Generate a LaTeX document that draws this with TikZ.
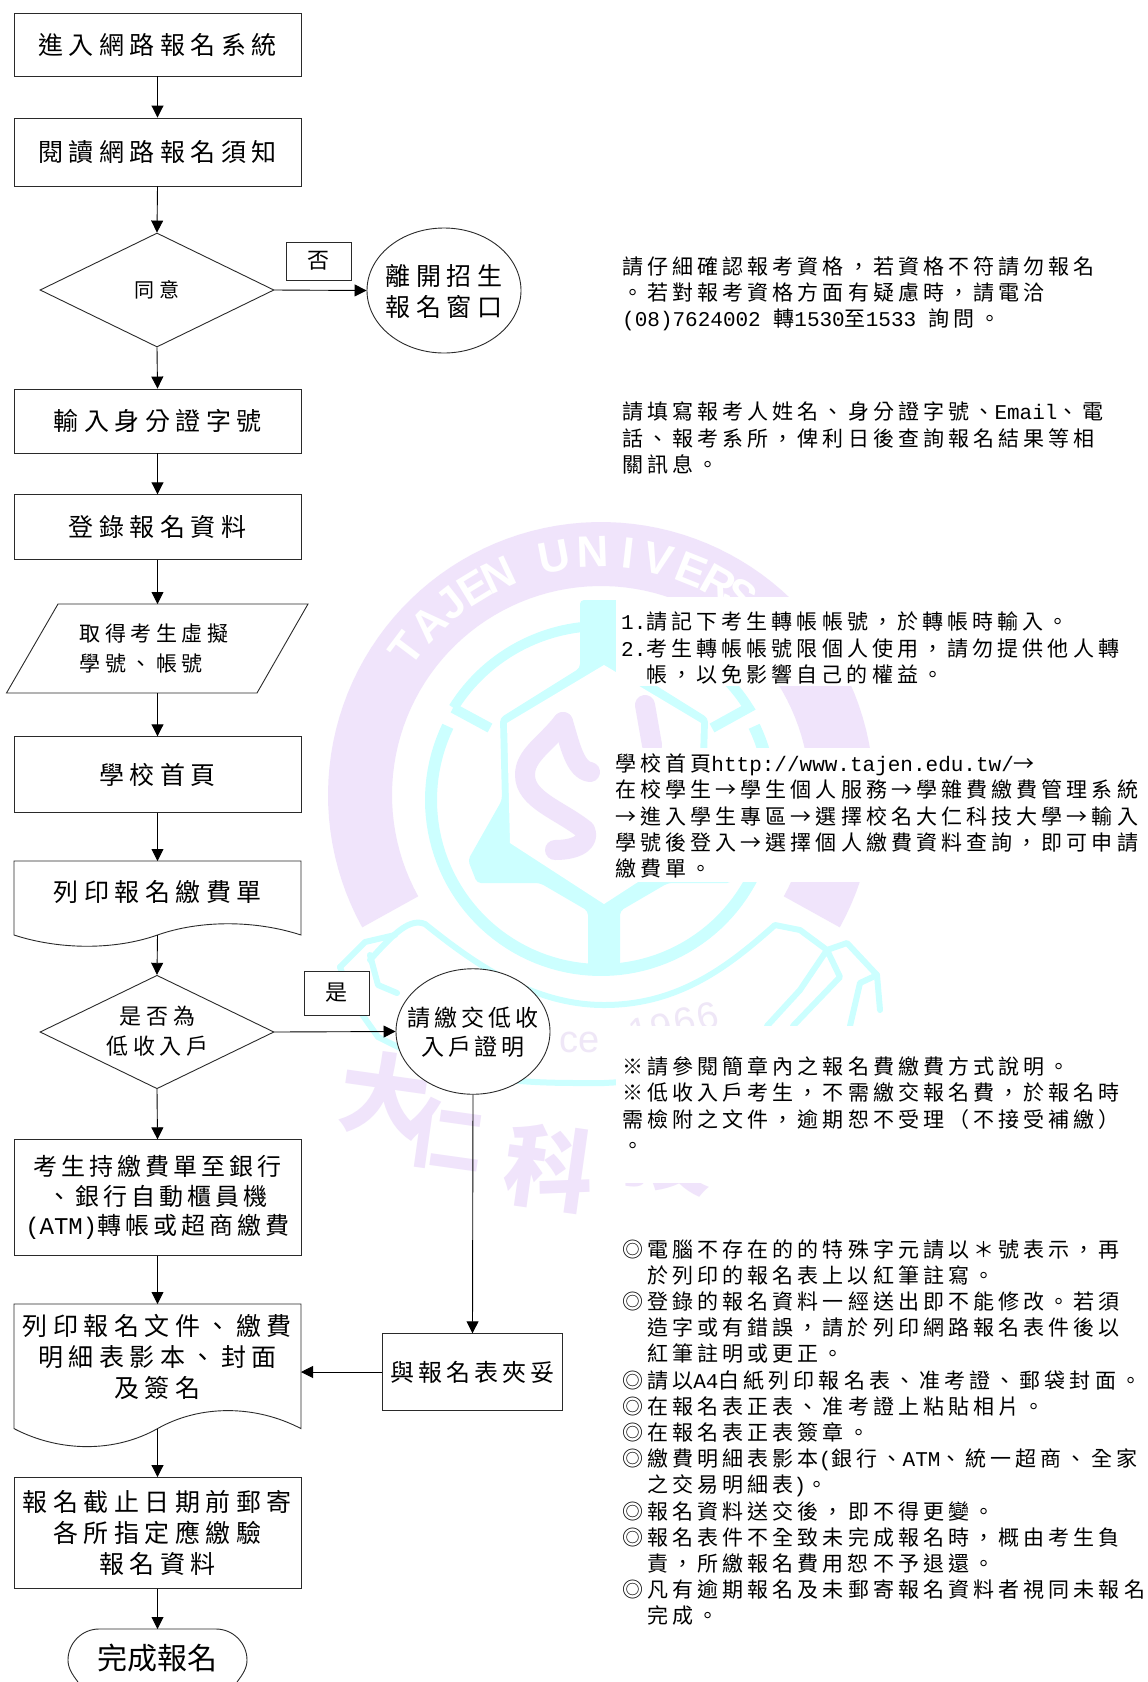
\documentclass[tikz,border=0pt]{standalone}
\usepackage{fontspec}
\usetikzlibrary{shapes.geometric,arrows.meta}
\setmainfont{Noto Sans CJK TC}
\newfontfamily\cjkplain{Noto Sans CJK TC}
\newfontfamily\cjkbig[LetterSpace=22]{Noto Sans CJK TC}
\newfontfamily\cjkmid[LetterSpace=17]{Noto Sans CJK TC}
\newfontfamily\cjksmall[LetterSpace=22]{Noto Sans CJK TC}
\newfontfamily\cjknote[LetterSpace=19.5]{Noto Sans CJK TC}
\newfontfamily\latmono{Liberation Mono}
\newfontfamily\wmsans{Liberation Sans}
\newcommand\lat[1]{{\latmono #1}}
\definecolor{wmpurple}{HTML}{F0E4FB}
\definecolor{wmcyan}{HTML}{CCFFFF}
\definecolor{wmtext}{HTML}{EFE7F7}
\definecolor{inkline}{HTML}{2A2A2A}
\tikzset{
  shapeline/.style={draw=inkline,line width=0.9pt,fill=white},
  bigtxt/.style={font={\fontsize{25}{31}\selectfont\cjkbig},align=center,inner sep=0pt},
  midtxt/.style={font={\fontsize{24}{29.5}\selectfont\cjkmid},align=center,inner sep=0pt},
  smalltxt/.style={font={\fontsize{22}{30}\selectfont\cjksmall},align=center,inner sep=0pt},
  flowbox/.style={shapeline,rectangle,minimum width=287pt,inner sep=0pt},
  labelbox/.style={shapeline,rectangle,minimum width=65pt,inner sep=0pt,font={\fontsize{22}{26}\selectfont\cjkplain}},
  decision/.style={shapeline,diamond,minimum width=234pt,inner sep=0pt,aspect=2},
  bubble/.style={shapeline,ellipse,minimum width=154pt,inner sep=0pt},
  notetxt/.style={anchor=west,align=left,inner sep=0pt,font={\fontsize{21}{26.2}\selectfont\cjknote}},
  arr/.style={draw=black,line width=0.9pt,-{Triangle[length=12pt,width=12pt]}},
  wmring/.style={draw=wmcyan,line width=12pt},
  wmthin/.style={draw=wmcyan,line width=6pt,line join=round,line cap=round},
  wmstroke/.style={draw=wmpurple,line width=20pt,line cap=round,line join=round},
  wmhan/.style={text=wmpurple,inner sep=0pt,font={\fontsize{90}{90}\selectfont\cjkplain\bfseries}},
  wmdigit/.style={text=wmtext,inner sep=0pt,font={\fontsize{38}{38}\selectfont\wmsans}},
  blank/.style={fill=white,draw=none}
}
\begin{document}
\begin{tikzpicture}[x=1pt,y=-1pt]
\path[use as bounding box,fill=white] (0,0) rectangle (1148,1682);
% ---- watermark ----
\fill[wmpurple] plot[domain=151:389,samples=90] ({601+273*cos(\x)},{795+273*sin(\x)})
   -- plot[domain=389:151,samples=90] ({601+209*cos(\x)},{795+209*sin(\x)}) -- cycle;
\foreach \a/\c in {-53/T,-45/A,-38/J,-31.4/E,-25/N,-11/U,-2/N,6.5/I,13.7/V,21.8/E,29/R,35/S}{
  \node[text=white,inner sep=0pt,rotate=-\a,font={\fontsize{44}{44}\selectfont\wmsans\bfseries}]
     (wm\a) at ({601+243*sin(\a)},{795-243*cos(\a)}) {\c};
}
\draw[wmring] plot[domain=205.7:-25.7,samples=90] ({601+170*cos(\x)},{800+170*sin(\x)});
\draw[wmcyan,line width=10pt] (490,728) -- (453,708) plot[domain=212:328,samples=60] ({601+174*cos(\x)},{800+174*sin(\x)}) -- (712,728);
\fill[wmcyan,rounded corners=4pt] (580,600) -- (628,600) -- (628,668) -- (708,718) -- (706,800) -- (740,860) -- (731,883) -- (668,883) -- (620,911) -- (620,970) -- (588,970) -- (588,911) -- (540,883) -- (477,883) -- (468,860) -- (502,800) -- (500,718) -- (580,668) -- cycle;
\fill[white] (604,665) -- (701,723) -- (698,843) -- (604,904) -- (510,843) -- (507,723) -- cycle;
\draw[wmstroke] (563,722) .. controls (545,745) and (525,755) .. (525,775) .. controls (525,800) and (560,810) .. (585,830) .. controls (590,840) and (580,850) .. (555,850);
\draw[wmstroke] (563,722) .. controls (570,745) and (575,770) .. (590,772);
\draw[wmstroke] (645,705) -- (652,745);
\draw[wmthin] (340,967) -- (365,942) -- (395,935);
\draw[wmthin] (370,960) .. controls (395,932) and (410,918) .. (425,924) .. controls (470,960) and (530,1005) .. (604,1005) .. controls (680,1005) and (730,965) .. (775,925) -- (800,930) -- (827,950) -- (847,943) -- (877,975) -- (880,1010);
\draw[wmthin] (340,967) -- (352,1000) -- (378,1037) -- (400,1048) .. controls (470,1085) and (540,1083) .. (604,1083) -- (660,1080);
\draw[wmthin] (370,955) -- (378,985) -- (397,993);
\draw[wmthin] (767,1026) -- (800,990) -- (827,950) -- (840,977) -- (793,1026);
\draw[wmthin] (850,1026) -- (860,983) -- (877,975);
\node[wmdigit] (wmce) at (580,1042) {ce};
\node[wmdigit,rotate=14] (wmyeara) at (640,1031) {1};
\node[wmdigit,rotate=14] (wmyearb) at (662,1027) {9};
\node[wmdigit,rotate=14] (wmyearc) at (685,1021) {6};
\node[wmdigit,rotate=14] (wmyeard) at (708,1016) {6};
\node[wmhan,rotate=-8] (wmda) at (385,1095) {大};
\node[wmhan,rotate=-8,font={\fontsize{76}{76}\selectfont\cjkplain\bfseries}] (wmren) at (445,1135) {仁};
\node[wmhan,rotate=-8] (wmke) at (550,1168) {科};
\node[wmhan,rotate=-8] (wmji) at (670,1150) {技};
\fill[blank] (616,597) rectangle (1148,686);
\fill[blank] (610,748) rectangle (1148,882);
\fill[blank] (616,1026) rectangle (1148,1183);
\fill[blank] (616,1197) rectangle (1148,1240);
% ---- flow ----
\node[flowbox,minimum height=63pt,bigtxt] (enter) at (157.5,44.5) {進入網路報名系統};
\node[flowbox,minimum height=68pt,bigtxt] (read) at (157.5,152) {閱讀網路報名須知};
\node[decision,minimum height=114pt,font={\fontsize{20}{26}\selectfont\cjksmall}] (agree) at (157,290) {同意};
\node[labelbox,minimum height=38pt] (nolabel) at (318.5,261) {否};
\node[bubble,minimum height=125pt] (leave) at (444,290.5) {};
\node[bigtxt] (leavetxt) at (444,291) {離開招生\\報名窗口};
\node[flowbox,minimum height=64pt,bigtxt] (idno) at (157.5,421) {輸入身分證字號};
\node[flowbox,minimum height=64.5pt,bigtxt] (login) at (157.5,527) {登錄報名資料};
\coordinate (paratop) at (157.5,604);
\coordinate (parabot) at (157.5,693);
\draw[shapeline] (58,604) -- (308,604) -- (257,693) -- (6.5,693) -- cycle;
\node[smalltxt,align=left,font={\fontsize{21}{30.5}\selectfont\cjksmall}] (para) at (154,648.5) {取得考生虛擬\\學號、帳號};
\node[flowbox,minimum height=75.5pt,bigtxt] (home) at (157.5,774.5) {學校首頁};
\coordinate (docatop) at (157.5,861);
\coordinate (docabot) at (157.5,935);
\draw[shapeline] (14,861) -- (301,861) -- (301,935) .. controls (255,920) and (200,920) .. (157.5,935) .. controls (115,950) and (60,950) .. (14,935) -- cycle;
\node[bigtxt] (docatxt) at (157.5,891.5) {列印報名繳費單};
\node[decision,minimum height=113.5pt] (lowinc) at (157,1032) {};
\node[smalltxt] (lowtxt) at (157.5,1031) {是否為\\低收入戶};
\node[labelbox,minimum height=44pt] (yeslabel) at (336.5,993) {是};
\node[bubble,minimum height=125.5pt] (cert) at (473,1031.5) {};
\node[smalltxt,font={\fontsize{23}{28.5}\selectfont\cjkmid}] (certtxt) at (473,1032) {請繳交低收\\入戶證明};
\node[flowbox,minimum height=115.5pt,midtxt] (pay) at (157.5,1197.5) {考生持繳費單至銀行\\、銀行自動櫃員機\\\lat{(ATM)}轉帳或超商繳費};
\coordinate (docbtop) at (157.5,1304);
\coordinate (docbbot) at (157.5,1428.6);
\coordinate (docbeast) at (301,1372);
\draw[shapeline] (14,1304) -- (301,1304) -- (301,1428.6) .. controls (255,1404.6) and (200,1404.6) .. (157.5,1428.6) .. controls (115,1452.6) and (60,1452.6) .. (14,1428.6) -- cycle;
\node[bigtxt] (docbtxt) at (157.5,1357) {列印報名文件、繳費\\明細表影本、封面\\及簽名};
\node[shapeline,rectangle,minimum width=179.5pt,minimum height=76.5pt,inner sep=0pt,font={\fontsize{24}{29}\selectfont\cjkmid}] (clip) at (472.5,1372) {與報名表夾妥};
\node[flowbox,minimum height=111pt,bigtxt] (mail) at (157.5,1533) {報名截止日期前郵寄\\各所指定應繳驗\\報名資料};
\coordinate (termtop) at (157.5,1629);
\draw[shapeline] (78,1682) .. controls (72,1674) and (68,1668) .. (68,1660) .. controls (68,1643) and (82,1629) .. (99,1629) -- (216,1629) .. controls (233,1629) and (247,1643) .. (247,1660) .. controls (247,1668) and (243,1674) .. (237,1682);
\node[inner sep=0pt,font={\fontsize{30}{30}\selectfont\cjkplain}] (term) at (157.5,1658) {完成報名};
% connectors
\draw[arr] (enter.south) -- (read.north);
\draw[arr] (read.south) -- (agree.north);
\draw[arr] (agree.east) -- (leave.west);
\draw[arr] (agree.south) -- (idno.north);
\draw[arr] (idno.south) -- (login.north);
\draw[arr] (login.south) -- (paratop);
\draw[arr] (parabot) -- (home.north);
\draw[arr] (home.south) -- (docatop);
\draw[arr] (docabot) -- (lowinc.north);
\draw[arr] (lowinc.east) -- (cert.west);
\draw[arr] (lowinc.south) -- (pay.north);
\draw[arr] (pay.south) -- (docbtop);
\draw[arr] (cert.south) -- (clip.north);
\draw[arr] (clip.west) -- (docbeast);
\draw[arr] (docbbot) -- (mail.north);
\draw[arr] (mail.south) -- (termtop);
% notes
\node[notetxt] (notea) at (622,293.5) {請仔細確認報考資格，若資格不符請勿報名\\。若對報考資格方面有疑慮時，請電洽\\\lat{(08)7624002 }轉\lat{1530}至\lat{1533 }詢問。};
\node[notetxt] (noteb) at (622,438) {請填寫報考人姓名、身分證字號、\lat{Email}、電\\話、報考系所，俾利日後查詢報名結果等相\\關訊息。};
\node[notetxt] (notec) at (621,648) {\lat{1.}請記下考生轉帳帳號，於轉帳時輸入。\\\lat{2.}考生轉帳帳號限個人使用，請勿提供他人轉\\\hspace*{25pt}帳，以免影響自己的權益。};
\node[notetxt] (noted) at (615,816) {學校首頁\lat{http://www.tajen.edu.tw/}→\\在校學生→學生個人服務→學雜費繳費管理系統\\→進入學生專區→選擇校名大仁科技大學→輸入\\學號後登入→選擇個人繳費資料查詢，即可申請\\繳費單。};
\node[notetxt] (notee) at (622,1105) {※請參閱簡章內之報名費繳費方式說明。\\※低收入戶考生，不需繳交報名費，於報名時\\需檢附之文件，逾期恕不受理（不接受補繳）\\。};
\node[notetxt] (notef) at (622,1432.5) {◎電腦不存在的的特殊字元請以＊號表示，再\\
\hspace*{25pt}於列印的報名表上以紅筆註寫。\\
◎登錄的報名資料一經送出即不能修改。若須\\
\hspace*{25pt}造字或有錯誤，請於列印網路報名表件後以\\
\hspace*{25pt}紅筆註明或更正。\\
◎請以\lat{A4}白紙列印報名表、准考證、郵袋封面。\\
◎在報名表正表、准考證上粘貼相片。\\
◎在報名表正表簽章。\\
◎繳費明細表影本\lat{(}銀行、\lat{ATM}、統一超商、全家\\
\hspace*{25pt}之交易明細表\lat{)}。\\
◎報名資料送交後，即不得更變。\\
◎報名表件不全致未完成報名時，概由考生負\\
\hspace*{25pt}責，所繳報名費用恕不予退還。\\
◎凡有逾期報名及未郵寄報名資料者視同未報名\\
\hspace*{25pt}完成。};
\end{tikzpicture}
\end{document}
